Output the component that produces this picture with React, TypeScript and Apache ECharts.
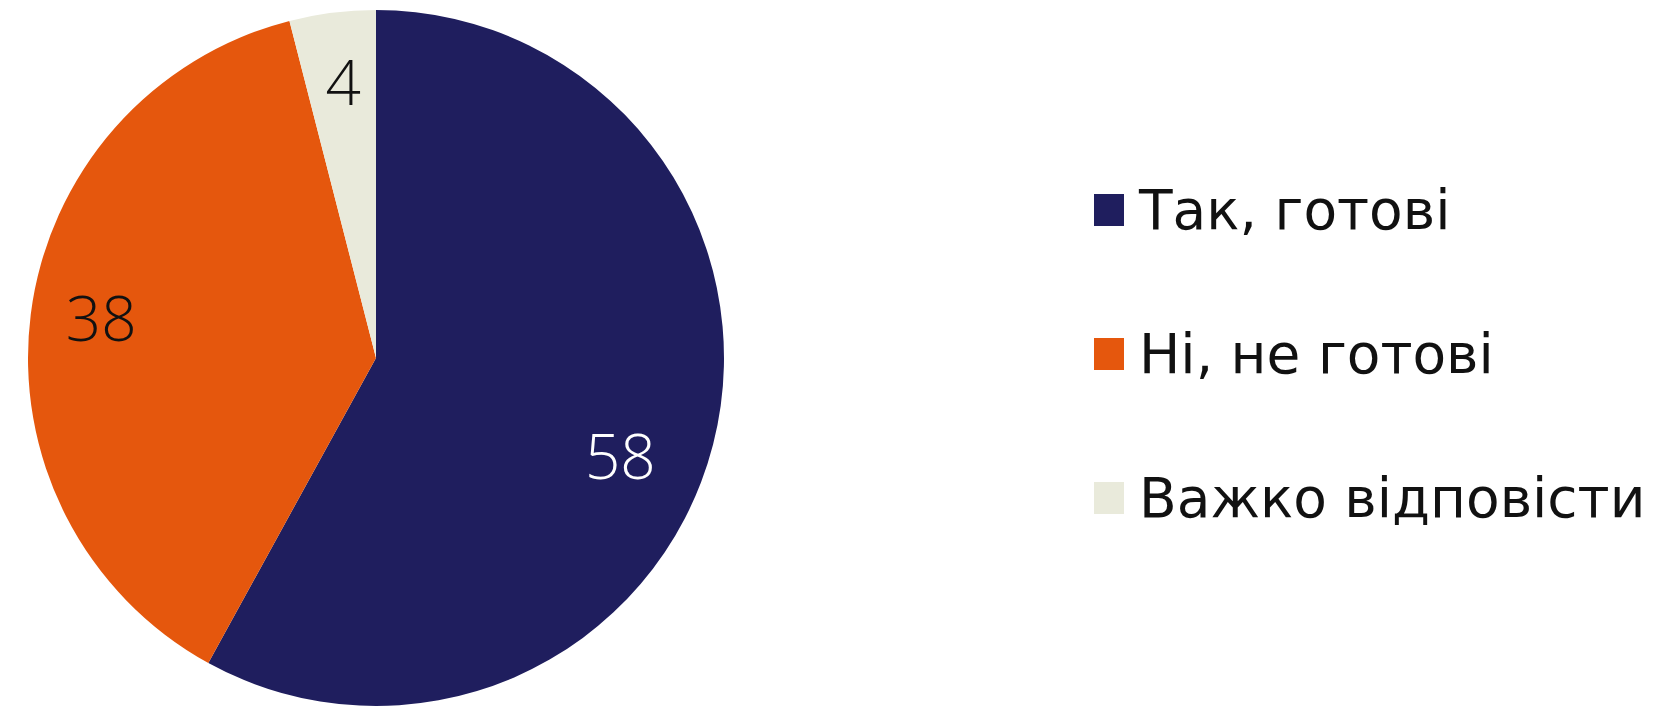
import React, { useEffect, useRef } from "react";
import * as echarts from "echarts";

const categories = ["Так, готові", "Ні, не готові", "Важко відповісти"];
const values = [58, 38, 4];
const colors = ["#1F1E5E", "#E5570D", "#E9EADB"];
const labelColors = ["#FFFFFF", "#111111", "#111111"];

export default function App() {
  const ref = useRef<HTMLDivElement>(null);
  useEffect(() => {
    if (!ref.current) return;
    const chart = echarts.init(ref.current, undefined, { renderer: "svg" });
    const pieData = categories.map((name, i) => ({
      name,
      value: values[i],
      itemStyle: { color: colors[i] },
    }));
    const labelData = categories.map((name, i) => ({
      name,
      value: values[i],
      itemStyle: { color: "rgba(0,0,0,0)" },
      label: {
        color: labelColors[i],
        offset: i === 0 ? [-24, 28] : i === 1 ? [0, -6] : [2, -2],
      },
    }));
    chart.setOption({
      animation: false,
      backgroundColor: "#ffffff",
      legend: {
        orient: "vertical",
        left: 1094,
        top: 180,
        padding: 0,
        icon: "rect",
        itemWidth: 30,
        itemHeight: 32,
        itemGap: 84,
        selectedMode: false,
        data: categories,
        textStyle: {
          fontFamily: "DejaVu Sans, Verdana, sans-serif",
          fontSize: 55,
          lineHeight: 60,
          color: "#111111",
          padding: [0, 0, 0, 10],
        },
      },
      series: [
        {
          type: "pie",
          center: [376, 358],
          radius: [0, 348],
          startAngle: 90,
          clockwise: true,
          silent: true,
          label: { show: false },
          labelLine: { show: false },
          data: pieData,
        },
        {
          type: "pie",
          center: [376, 358],
          radius: [200, 348],
          startAngle: 90,
          clockwise: true,
          silent: true,
          z: 3,
          label: {
            show: true,
            position: "inside",
            formatter: "{c}",
            fontFamily: "Open Sans, Lato, sans-serif",
            fontWeight: 300,
            fontSize: 62,
          },
          labelLine: { show: false },
          data: labelData,
        },
      ],
    });
    return () => chart.dispose();
  }, []);
  return (
    <div
      ref={ref}
      style={{ position: "fixed", left: 0, top: 0, width: 1656, height: 707 }}
    />
  );
}
